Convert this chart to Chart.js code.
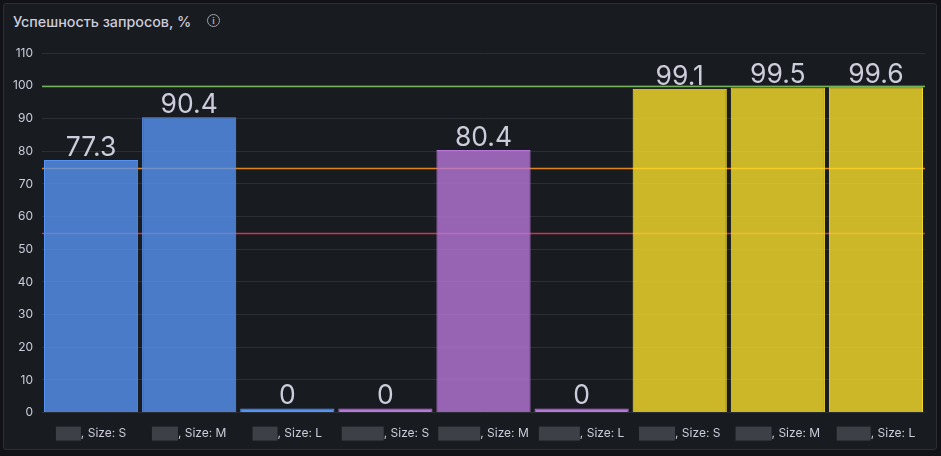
<!DOCTYPE html>
<html>
<head>
<meta charset="utf-8">
<script src="https://cdn.jsdelivr.net/npm/chart.js@4"></script>
<style>
  html, body { margin: 0; padding: 0; background: #111217; }
  #panel {
    position: absolute; left: 3px; top: 3px; width: 932px; height: 445px;
    background: #181b1f; border: 1px solid #2a2d34; border-radius: 3px;
  }
  #title {
    position: absolute; left: 9px; top: 9px;
    font: 500 14.3px Inter, "DejaVu Sans", sans-serif; color: #ccccdc;
  }
  #info {
    position: absolute; left: 203px; top: 10px; width: 11px; height: 11px;
    border: 1.4px solid #a0a2ac; border-radius: 50%;
    font: bold 9px Inter, sans-serif; color: #a0a2ac; text-align: center; line-height: 11px;
  }
  #wrap { position: absolute; left: 0; top: 33px; width: 932px; height: 410px; }
</style>
</head>
<body>
<div id="panel">
  <div id="title">Успешность запросов, %</div>
  <div id="info">i</div>
  <div id="wrap"><canvas id="myChart"></canvas></div>
</div>
<script>
// redacted names are drawn as grey boxes, only the size part is readable
const sizes = ["S", "M", "L", "S", "M", "L", "S", "M", "L"];
const groups = [0, 0, 0, 1, 1, 1, 2, 2, 2];
const successRate = [77.3, 90.4, 0, 0, 80.4, 0, 99.1, 99.5, 99.6];
const maskWidths = [25, 26, 25, 42, 42, 41, 36, 36, 34];
const yTicks = [0, 10, 20, 30, 40, 50, 60, 70, 80, 90, 100, 110];
const thresholds = [55, 75, 100];
const thresholdColors = ["#d0344c", "#e0851c", "#73b35a"];

const groupLine = ["#5794f2", "#b877d9", "#fade2a"];
const groupFill = ["rgba(87,148,242,0.8)", "rgba(184,119,217,0.8)", "rgba(250,222,42,0.8)"];

const labels = sizes.map(s => ", Size: " + s);

const thresholdPlugin = {
    id: "thresholds",
    beforeDatasetsDraw(chart) {
        const ctx = chart.ctx;
        const area = chart.chartArea;
        const y = chart.scales.y;
        ctx.save();
        ctx.lineWidth = 1.6;
        for (let i = 0; i < thresholds.length; i++) {
            const py = Math.round(y.getPixelForValue(thresholds[i])) + 0.5;
            ctx.strokeStyle = thresholdColors[i];
            ctx.beginPath();
            ctx.moveTo(area.left, py);
            ctx.lineTo(area.right, py);
            ctx.stroke();
        }
        ctx.restore();
    }
};

const valuePlugin = {
    id: "values",
    afterDatasetsDraw(chart) {
        const ctx = chart.ctx;
        const meta = chart.getDatasetMeta(0);
        ctx.save();
        ctx.fillStyle = "#ccccdc";
        ctx.font = "26.5px Inter, sans-serif";
        ctx.textAlign = "center";
        ctx.textBaseline = "bottom";
        meta.data.forEach((bar, i) => {
            const v = successRate[i];
            const top = Math.min(bar.y, chart.scales.y.getPixelForValue(0) - 2);
            ctx.fillText(v === 0 ? "0" : v.toFixed(1), bar.x, top + 1);
        });
        ctx.restore();
    }
};

const labelPlugin = {
    id: "xlabels",
    afterDraw(chart) {
        const ctx = chart.ctx;
        const x = chart.scales.x;
        const yPos = x.top + 21;
        ctx.save();
        ctx.font = "12px Inter, sans-serif";
        ctx.textBaseline = "middle";
        ctx.textAlign = "left";
        labels.forEach((lab, i) => {
            const cx = x.getPixelForValue(i);
            const tw = ctx.measureText(lab).width;
            const total = maskWidths[i] + tw;
            const left = cx - total / 2;
            ctx.fillStyle = "#3d4047";
            ctx.fillRect(left, yPos - 7, maskWidths[i], 14);
            ctx.fillStyle = "#ccccdc";
            ctx.fillText(lab, left + maskWidths[i], yPos);
        });
        ctx.restore();
    }
};

const data = {
    labels: labels,
    datasets: [
        {
            label: "Успешность запросов, %",
            data: successRate,
            // an empty bar shows only its outline colour
            backgroundColor: groups.map((g, i) => successRate[i] === 0 ? groupLine[g] : groupFill[g]),
            borderColor: groups.map(g => groupLine[g]),
            borderWidth: 1,
            minBarLength: 4,
            barPercentage: 0.96,
            categoryPercentage: 1
        }
    ]
};

const config = {
    type: "bar",
    data: data,
    options: {
        responsive: true,
        maintainAspectRatio: false,
        animation: false,
        layout: { padding: { left: 0, right: 11, top: 0, bottom: 0 } },
        plugins: {
            legend: { display: false },
            tooltip: { enabled: false }
        },
        scales: {
            x: {
                grid: { display: false },
                border: { display: false },
                ticks: {
                    color: "transparent",
                    font: { family: "Inter", size: 12 },
                    padding: 6,
                    maxRotation: 0,
                    autoSkip: false
                }
            },
            y: {
                min: 0,
                max: 110,
                afterBuildTicks(scale) {
                    scale.ticks = yTicks.map(v => ({ value: v }));
                },
                grid: { color: "#2b2e34", drawTicks: false },
                border: { display: false },
                ticks: {
                    color: "#ccccdc",
                    font: { family: "Inter", size: 12 },
                    padding: 9
                }
            }
        }
    },
    plugins: [thresholdPlugin, valuePlugin, labelPlugin]
};

window.mychart = new Chart(document.getElementById("myChart"), config);
</script>
</body>
</html>
